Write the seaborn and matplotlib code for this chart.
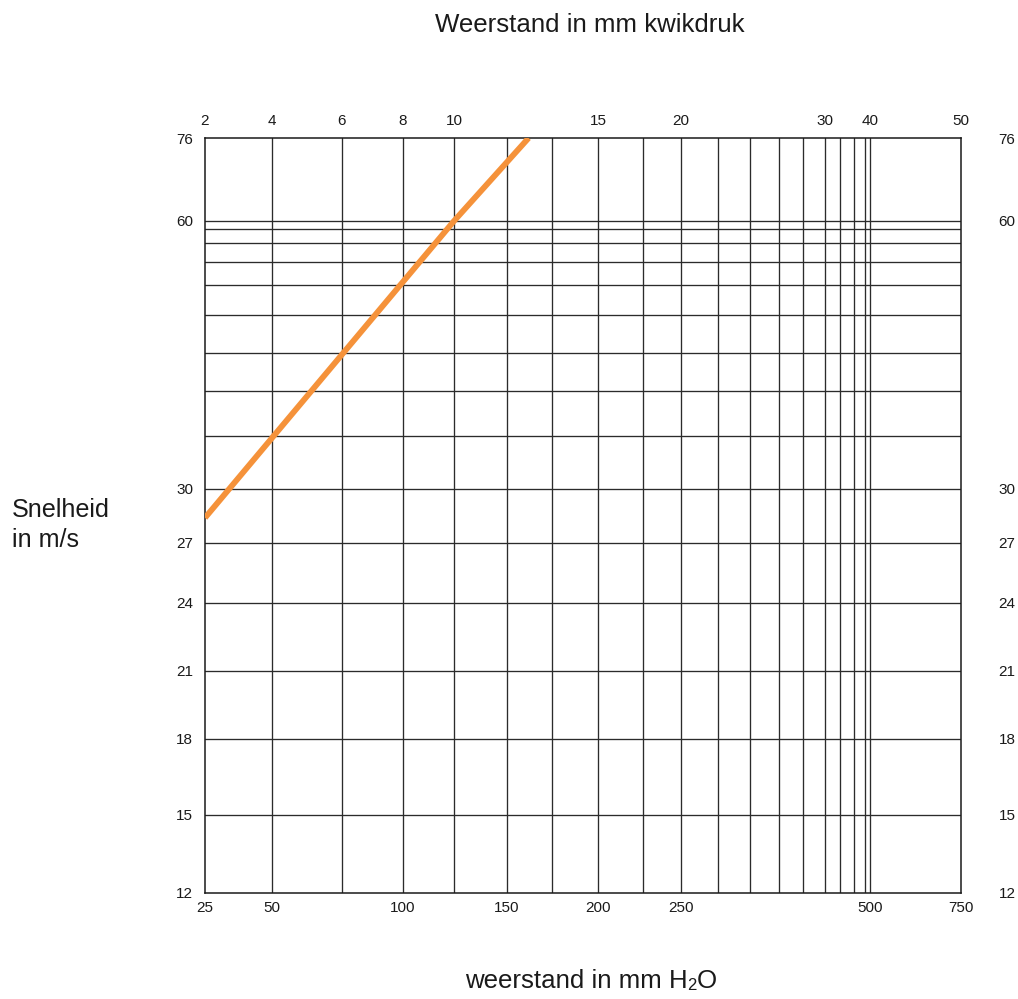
import numpy as np
import matplotlib
matplotlib.use("Agg")
import matplotlib.pyplot as plt
import seaborn as sns

# ---------------- data ----------------
x_ticks_h2o = [25, 50, 100, 150, 200, 250, 500, 750]           # bottom labels (mm H2O)
x_ticks_hg = [2, 4, 6, 8, 10, 15, 20, 30, 40, 50]               # top labels (mm kwik)
x_ticks_hg_as_h2o = [25, 50, 75, 100, 125, 200, 250, 375, 500, 750]
y_ticks = [12, 15, 18, 21, 24, 27, 30, 60, 76]                  # speed labels (m/s)
x_grid_h2o = [25, 50, 75, 100, 125, 150, 175, 200, 225, 250, 275, 300,
              325, 350, 375, 400, 425, 450, 500, 750]
y_grid = [12, 15, 18, 21, 24, 27, 30, 33, 36, 39, 42, 45, 48, 51, 54, 60, 76]
line_h2o = [25, 125, 162]
line_speed = [28.4, 60, 76]

# ---------------- nomogram scale definition (chart units) ----------------
x_scale_pos = [0, 67, 137, 198, 249, 302, 347, 393, 438, 476, 513, 545,
               574, 598, 620, 635, 649, 660, 665, 756]
y_scale_pos = [0, 78, 154, 222, 290, 350, 404, 457, 502, 540, 578, 608,
               631, 650, 664, 672, 755]


def make_scale(vals, pos):
    vals = np.asarray(vals, float)
    pos = np.asarray(pos, float)

    def fwd(v):
        return np.interp(v, vals, pos)

    def inv(p):
        return np.interp(p, pos, vals)
    return fwd, inv


xfun = make_scale(x_grid_h2o, x_scale_pos)
yfun = make_scale(y_grid, y_scale_pos)

sns.set_style("white")
plt.rcParams["font.family"] = ["Liberation Sans", "DejaVu Sans"]

TXT = "#1a1a1a"
fig = plt.figure(figsize=(10.18, 9.99), dpi=100)
ax = fig.add_axes([205 / 1018, 106 / 999, 756 / 1018, 755 / 999])
ax.set_xscale("function", functions=xfun)
ax.set_yscale("function", functions=yfun)
ax.set_xlim(25, 750)
ax.set_ylim(12, 76)

grid_kw = dict(color="#2b2b2b", lw=0.95, zorder=1)
for v in x_grid_h2o[1:-1]:
    ax.axvline(v, **grid_kw)
for v in y_grid[1:-1]:
    ax.axhline(v, **grid_kw)

sns.lineplot(x=line_h2o, y=line_speed, ax=ax, color="#F5923A", lw=4.2,
             solid_capstyle="butt", zorder=3, estimator=None, sort=False)

for s in ax.spines.values():
    s.set_color(TXT)
    s.set_linewidth(1.1)
    s.set_visible(True)

ax.set_xticks(x_ticks_h2o, labels=[str(v) for v in x_ticks_h2o])
ax.set_yticks(y_ticks, labels=[str(v) for v in y_ticks])
ax.minorticks_off()
ax.tick_params(axis="x", length=0, pad=6, labelsize=11, colors=TXT)
ax.tick_params(axis="y", length=0, pad=8.5, labelsize=11, colors=TXT)
ax.set_xlabel("")
ax.set_ylabel("")

# top axis (mm kwik)
axt = ax.twiny()
axt.set_xscale("function", functions=xfun)
axt.set_xlim(25, 750)
axt.set_xticks(x_ticks_hg_as_h2o, labels=[str(v) for v in x_ticks_hg])
axt.minorticks_off()
axt.tick_params(axis="x", length=0, pad=7, labelsize=11, colors=TXT)
for s in axt.spines.values():
    s.set_visible(False)

# right axis (speed)
axr = ax.twinx()
axr.set_yscale("function", functions=yfun)
axr.set_ylim(12, 76)
axr.set_yticks(y_ticks, labels=[str(v) for v in y_ticks])
axr.minorticks_off()
axr.tick_params(axis="y", length=0, pad=27, labelsize=11, colors=TXT)
for s in axr.spines.values():
    s.set_visible(False)

# texts
fig.text(590 / 1018, 1 - 32 / 999, "Weerstand in mm kwikdruk", ha="center",
         va="baseline", fontsize=18.6, color=TXT)
fig.text(12 / 1018, 1 - 517 / 999, "Snelheid", ha="left", va="baseline",
         fontsize=18.1, color=TXT)
fig.text(12 / 1018, 1 - 547 / 999, "in m/s", ha="left", va="baseline",
         fontsize=18.1, color=TXT)
t1 = fig.text(465 / 1018, 1 - 988 / 999, "weerstand in mm H", ha="left",
              va="baseline", fontsize=18.6, color=TXT)
t2 = ax.annotate("2", xy=(1, 0), xycoords=t1, ha="left", va="bottom",
                 fontsize=12, color=TXT, annotation_clip=False)
ax.annotate("O", xy=(1, 0), xycoords=(t2, t1), ha="left", va="bottom",
            fontsize=18.6, color=TXT, annotation_clip=False)

fig.savefig("out.png", dpi=100)
